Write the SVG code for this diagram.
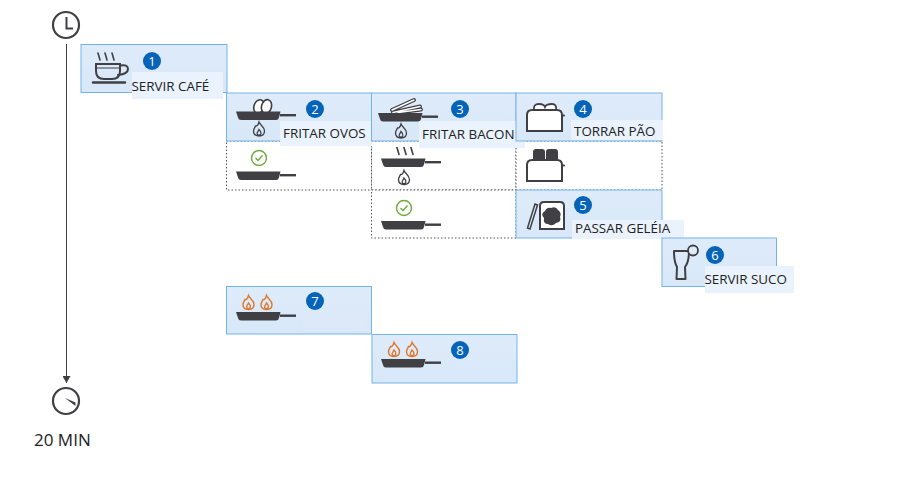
<svg xmlns="http://www.w3.org/2000/svg" xmlns:xlink="http://www.w3.org/1999/xlink" width="900" height="491" viewBox="0 0 900 491">
<style>
.box{fill:url(#bg);stroke:#74b3ea;stroke-width:1}
.dot{fill:#fff;stroke:#555;stroke-width:1;stroke-dasharray:1.500 2}
.panel{fill:#e9f2fd}
.lbl{font-family:"Open Sans","Noto Sans",sans-serif;font-size:13.400px;fill:#222}
.num{font-family:"Open Sans","Noto Sans",sans-serif;font-size:13px;fill:#fff;text-anchor:middle}
.badge{fill:#0563b8}
.ln{fill:none;stroke:#3f3f44;stroke-width:2;stroke-linecap:round;stroke-linejoin:round}
.fl{fill:none;stroke:#3f3f44;stroke-width:1.300}
.fo{fill:none;stroke:#e0762b;stroke-width:1.400}
.ck{fill:none;stroke:#6fa83a;stroke-width:1.400}
</style>
<defs>
<linearGradient id="bg" x1="0" y1="0" x2="0" y2="1"><stop offset="0" stop-color="#deebfa"/><stop offset="1" stop-color="#d8e8f8"/></linearGradient>
<marker id="arr" markerWidth="9" markerHeight="8" refX="7" refY="4" orient="auto" markerUnits="userSpaceOnUse"><path d="M0 0L7 4L0 8Z" fill="#3f3f44"/></marker>
<g id="pan"><path d="M0 0H44.500L43 6Q42.500 8.500 40 8.500H5Q2.500 8.500 2 6Z" fill="#3f3f44"/><rect x="44" y="2.500" width="16" height="2.400" fill="#3f3f44"/></g>
<path id="flame" d="M0 -7.500C1 -4.500 5.500 -3 5.500 1.500C5.500 5 3 6.500 0 6.500C-3 6.500 -5.500 5 -5.500 1.500C-5.500 -0.500 -4 -2 -3.500 -3.500C-2.500 -3 -1 -4 0 -7.500ZM0 0C1.700 1.500 2.300 2.500 1.800 4.500C1 6 -1 6 -1.800 4.500C-2.300 2.500 -0.700 2 0 0Z"/>
<g id="check"><circle r="7.500" class="ck"/><path d="M-3.500 0L-1 2.500L3.500 -2.500" class="ck"/></g>
<g id="toaster"><path d="M0 21V5Q0 0 5 0H30Q35 0 35 5V21Z" fill="#fff" stroke="#3f3f44" stroke-width="2"/><path d="M35 5.500H37" class="ln"/></g>
<g id="steam"><path d="M0 0L2 7M7 0L9 7M14 0L16 7" class="ln" style="stroke-width:1.600"/></g>
</defs>

<g id="timeline">
<circle cx="66" cy="25" r="13" fill="none" stroke="#3f3f44" stroke-width="2.200"/>
<path d="M66.500 17V28.500H73" fill="none" stroke="#3f3f44" stroke-width="2"/>
<circle cx="66" cy="401" r="13" fill="none" stroke="#3f3f44" stroke-width="2.200"/>
<path d="M65 398L75.500 402.500V406Z" fill="#3f3f44"/>
<text x="34" y="446" font-family="'Open Sans','Noto Sans',sans-serif" font-size="17px" fill="#222">20 MIN</text>
</g>
<g id="connectors">
<path d="M66.500 44V383" fill="none" stroke="#3f3f44" stroke-width="1" marker-end="url(#arr)"/>
</g>

<g id="slot-2b"><rect class="dot" x="226.500" y="141" width="145" height="49"/><use href="#check" x="259" y="158"/><use href="#pan" x="236" y="171.500"/></g>
<g id="slot-3b"><rect class="dot" x="371.500" y="141" width="144.500" height="49"/><use href="#steam" x="397" y="147.500"/><use href="#pan" x="381" y="158.500"/><use href="#flame" x="404" y="178" class="fl"/></g>
<g id="slot-3c"><rect class="dot" x="371.500" y="190" width="144.500" height="48"/><use href="#check" x="404" y="208"/><use href="#pan" x="381" y="221"/></g>
<g id="slot-4b"><rect class="dot" x="516" y="141" width="146" height="49"/><rect x="533" y="149" width="12" height="13" rx="3" fill="#3f3f44"/><rect x="546" y="149" width="12" height="13" rx="3" fill="#3f3f44"/><use href="#toaster" x="527" y="160"/></g>

<g id="node-7"><rect class="box" x="226.500" y="286.500" width="145" height="47.500"/><rect x="303" y="315" width="64" height="16" fill="#dde9f9"/><use href="#flame" x="248.500" y="303" class="fo"/><use href="#flame" x="266.500" y="303" class="fo"/><use href="#pan" x="236" y="312"/><circle class="badge" cx="315" cy="301" r="9"/><text class="num" x="315" y="305.500">7</text></g>
<g id="node-8"><rect class="box" x="372" y="334.500" width="145" height="48.500"/><use href="#flame" x="394" y="350" class="fo"/><use href="#flame" x="412" y="350" class="fo"/><use href="#pan" x="381" y="359"/><circle class="badge" cx="460" cy="350" r="9"/><text class="num" x="460" y="354.500">8</text></g>

<g id="node-1"><rect class="box" x="81" y="44.500" width="146" height="48"/>
<path d="M98 53L100 60M105 53L107 60M112 53L114 60" class="ln" style="stroke-width:1.600"/>
<path d="M96 64H120V71Q120 79 112 79H104Q96 79 96 71Z" fill="none" stroke="#3f3f44" stroke-width="2"/><path d="M96 68H120" class="ln" style="stroke-width:1.200"/>
<path d="M120 65.500Q128 64 128 69Q128 74 118 75" class="ln"/><path d="M93 82.500H125" class="ln" style="stroke-width:2.400"/>
<rect class="panel" x="132" y="72" width="91" height="27"/>
<circle class="badge" cx="152" cy="61" r="9"/><text class="num" x="152" y="65.500">1</text><text class="lbl" x="131.500" y="91">SERVIR CAFÉ</text></g>

<g id="node-2"><rect class="box" x="226.500" y="93" width="145" height="48"/>
<ellipse cx="259" cy="106.500" rx="5" ry="7" fill="#fff" stroke="#3f3f44" stroke-width="1.600" transform="rotate(20 259 106.500)"/><ellipse cx="266.500" cy="106.500" rx="5" ry="7" fill="#fff" stroke="#3f3f44" stroke-width="1.600" transform="rotate(15 266.500 106.500)"/>
<use href="#pan" x="236" y="111.500"/><use href="#flame" x="259" y="129.500" class="fl"/>
<rect class="panel" x="280" y="121" width="92" height="25"/>
<circle class="badge" cx="315" cy="109" r="9"/><text class="num" x="315" y="113.500">2</text><text class="lbl" x="283" y="138">FRITAR OVOS</text></g>

<g id="node-3"><rect class="box" x="371.500" y="93" width="144.500" height="48"/>
<path d="M392 110L414 100M393 112.500L420 106.500M398 112.500L421 109.500" stroke="#3f3f44" stroke-width="4" fill="none" stroke-linecap="round"/><path d="M392 110L414 100M393 112.500L420 106.500M398 112.500L421 109.500" stroke="#fff" stroke-width="1.500" fill="none" stroke-linecap="round"/>
<use href="#pan" x="378" y="113"/><use href="#flame" x="401" y="131.500" class="fl"/>
<rect class="panel" x="419" y="121" width="106" height="27"/>
<circle class="badge" cx="460" cy="109" r="9"/><text class="num" x="460" y="113.500">3</text><text class="lbl" x="422" y="139">FRITAR BACON</text></g>

<g id="node-4"><rect class="box" x="516" y="93" width="146" height="48"/>
<path d="M534 110Q533 104 539 104Q544 104 545 107Q546 104 552 104Q557 104 556 110" fill="#fff" stroke="#3f3f44" stroke-width="1.800"/><use href="#toaster" x="527" y="110"/>
<rect class="panel" x="571" y="120" width="92" height="20"/>
<circle class="badge" cx="583" cy="109" r="9"/><text class="num" x="583" y="113.500">4</text><text class="lbl" x="574" y="135.500">TORRAR PÃO</text></g>

<g id="node-5"><rect class="box" x="516" y="190" width="146" height="48"/>
<path d="M527.500 228L535 204L537.500 205L530 229Z" fill="none" stroke="#3f3f44" stroke-width="1.500"/>
<path d="M540 229V206Q540 202 544 202H560Q564 202 564 206V229Z" fill="#fff" stroke="#3f3f44" stroke-width="2"/>
<path d="M551 208Q556 206 558 210Q562 213 560 217Q562 222 556 223Q552 227 548 224Q543 224 544 218Q540 214 545 211Q547 207 551 208Z" fill="#3f3f44"/>
<rect class="panel" x="572" y="220" width="112" height="19"/>
<circle class="badge" cx="583" cy="205" r="9"/><text class="num" x="583" y="209.500">5</text><text class="lbl" x="575" y="233">PASSAR GELÉIA</text></g>

<g id="node-6"><rect class="box" x="662" y="238" width="114.500" height="48.500"/>
<path d="M674 251H689Q689 262 685 267L685.500 279H676.500L677 267Q674 262 674 251Z" fill="none" stroke="#3f3f44" stroke-width="2" stroke-linejoin="round"/>
<circle cx="693" cy="250.500" r="5" fill="#dfebfa" stroke="#3f3f44" stroke-width="1.800"/>
<rect class="panel" x="705" y="266" width="89" height="27"/>
<circle class="badge" cx="715" cy="255" r="9"/><text class="num" x="715" y="259.500">6</text><text class="lbl" x="704.500" y="284">SERVIR SUCO</text></g>
</svg>
